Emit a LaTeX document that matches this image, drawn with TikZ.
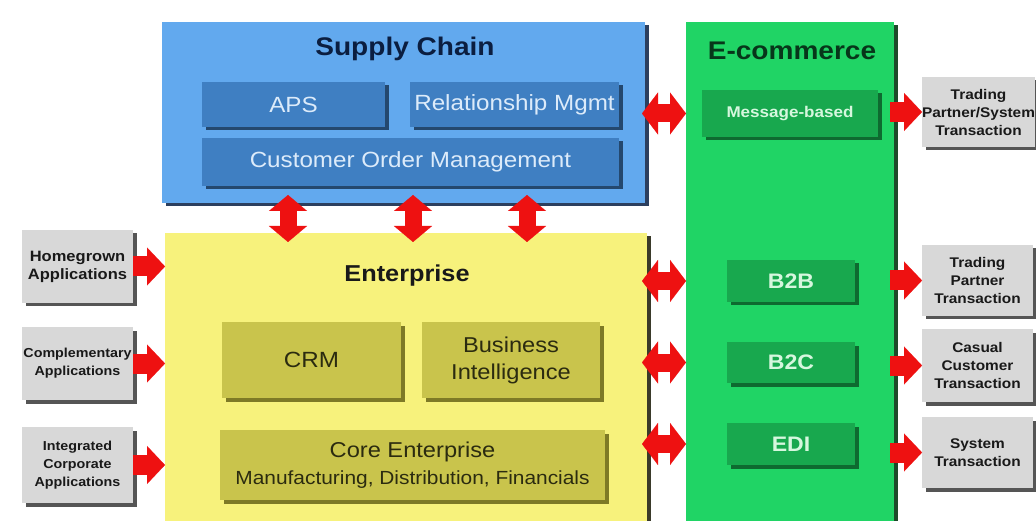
\documentclass[tikz,border=0pt]{standalone}
\usepackage{fontspec}
\setmainfont{Liberation Sans}[FakeStretch=1.1]
\usetikzlibrary{arrows.meta,shadows,calc}
\newcommand\fsz[2]{\fontsize{#1}{#2}\selectfont}
\definecolor{bluebg}{HTML}{62A9EE}
\definecolor{blueshd}{HTML}{2C3F5E}
\definecolor{bluein}{HTML}{3F7FC2}
\definecolor{blueinshd}{HTML}{24486E}
\definecolor{bluetxt}{HTML}{DCEBFA}
\definecolor{bluettl}{HTML}{0B1E40}
\definecolor{yelbg}{HTML}{F7F27C}
\definecolor{yelshd}{HTML}{3A3A2A}
\definecolor{yelin}{HTML}{C9C44C}
\definecolor{yelinshd}{HTML}{7E7A26}
\definecolor{yeltxt}{HTML}{2B2B10}
\definecolor{grnbg}{HTML}{20D465}
\definecolor{grnshd}{HTML}{1D4A2A}
\definecolor{grnin}{HTML}{18A84E}
\definecolor{grninshd}{HTML}{0E6A30}
\definecolor{grntxt}{HTML}{D6F7DE}
\definecolor{grnttl}{HTML}{07361A}
\definecolor{graybg}{HTML}{D8D8D8}
\definecolor{grayshd}{HTML}{555555}
\definecolor{arrred}{HTML}{EE1111}
\begin{document}
\begin{tikzpicture}[x=1pt,y=-1pt,
  box/.style={rectangle, inner sep=0pt, outer sep=0pt, anchor=north west, align=center},
  shd/.style={drop shadow={shadow xshift=3.5pt, shadow yshift=-3.5pt, fill=#1, opacity=1}},
  bigblue/.style={box, fill=bluebg, shd=blueshd},
  inblue/.style={box, fill=bluein, shd=blueinshd, text=bluetxt, font=\fsz{22}{25}},
  bigyel/.style={box, fill=yelbg, shd=yelshd},
  inyel/.style={box, fill=yelin, shd=yelinshd, text=yeltxt, font=\fsz{21.5}{27}},
  biggrn/.style={box, fill=grnbg, shd=grnshd},
  ingrn/.style={box, fill=grnin, shd=grninshd, text=grntxt, font=\bfseries\fsz{21}{25}},
  graybox/.style={box, fill=graybg, shd=grayshd, text=black!90, font=\bfseries\fsz{13}{18}},
  ttl/.style={anchor=base, font=\bfseries\fsz{25.5}{28}},
  dblh/.style={draw=arrred, line width=18pt,
    {Triangle[width=42pt,length=16pt,line width=0.1pt]}-{Triangle[width=42pt,length=16pt,line width=0.1pt]}},
  dblv/.style={draw=arrred, line width=17pt,
    {Triangle[width=38pt,length=16pt,line width=0.1pt]}-{Triangle[width=38pt,length=16pt,line width=0.1pt]}},
  sgl/.style={draw=arrred, line width=20pt,
    -{Triangle[width=38pt,length=18pt,line width=0.1pt]}}
]
\clip (0,0) rectangle (1036,521);
\fill[white] (0,0) rectangle (1036,521);

% outer boxes
\node[bigblue, minimum width=483pt, minimum height=181pt] (sc) at (162,22) {};
\node[bigyel, minimum width=482pt, minimum height=300pt] (ent) at (165,233) {};
\node[biggrn, minimum width=208pt, minimum height=510pt] (ec) at (686,22) {};

% titles
\node[ttl, text=bluettl] (sctitle) at (405,56) {Supply Chain};
\node[ttl, text=black!90, font=\bfseries\fsz{23}{28}] (enttitle) at (407,282) {Enterprise};
\node[ttl, text=grnttl, font=\bfseries\fsz{25.5}{28}] (ectitle) at (792,60) {E-commerce};

% supply chain inner
\node[inblue, minimum width=183pt, minimum height=45pt] (aps) at (202,82) {APS};
\node[inblue, minimum width=209pt, minimum height=45pt] (rel) at (410,82) {Relationship Mgmt};
\node[inblue, minimum width=417pt, minimum height=48pt] (com) at (202,138) {Customer Order Management};

% enterprise inner
\node[inyel, minimum width=179pt, minimum height=76pt, font=\fsz{22}{27}] (crm) at (222,322) {CRM};
\node[inyel, minimum width=178pt, minimum height=76pt] (bi) at (422,322) {Business\\Intelligence};
\node[inyel, minimum width=385pt, minimum height=70pt] (core) at (220,430) {Core Enterprise\\{\fsz{19}{27}\selectfont Manufacturing, Distribution, Financials}};

% e-commerce inner
\node[ingrn, minimum width=176pt, minimum height=47pt, font=\bfseries\fsz{15.5}{18}] (msg) at (702,90) {Message-based};
\node[ingrn, minimum width=128pt, minimum height=42pt] (b2b) at (727,260) {B2B};
\node[ingrn, minimum width=128pt, minimum height=41pt] (b2c) at (727,342) {B2C};
\node[ingrn, minimum width=128pt, minimum height=42pt] (edi) at (727,423) {EDI};

% left gray boxes
\node[graybox, minimum width=111pt, minimum height=73pt, font=\bfseries\fsz{15}{18}] (hg) at (22,230) {Homegrown\\Applications};
\node[graybox, minimum width=111pt, minimum height=73pt] (comp) at (22,327) {Complementary\\Applications};
\node[graybox, minimum width=111pt, minimum height=76pt] (integ) at (22,427) {Integrated\\Corporate\\Applications};

% right gray boxes
\node[graybox, minimum width=111pt, minimum height=70pt, font=\bfseries\fsz{14}{18}] (t1) at (922,77) {Trading\\Partner/System\\Transaction};
\node[graybox, minimum width=111pt, minimum height=71pt, font=\bfseries\fsz{14}{18}] (t2) at (922,245) {Trading\\Partner\\Transaction};
\node[graybox, minimum width=111pt, minimum height=73pt, font=\bfseries\fsz{14}{18}] (t3) at (922,329) {Casual\\Customer\\Transaction};
\node[graybox, minimum width=111pt, minimum height=71pt, font=\bfseries\fsz{14}{18}] (t4) at (922,417) {System\\Transaction};

% vertical connectors supply chain <-> enterprise
\coordinate (v1) at (288,0);
\coordinate (v2) at (413,0);
\coordinate (v3) at (527,0);
\foreach \v in {v1,v2,v3}
  \draw[dblv, shorten <=-8pt, shorten >=-9pt] (sc.south -| \v) -- (ent.north -| \v);

% horizontal double connectors
\draw[dblh, shorten <=-3pt] (sc.east |- msg.west) -- (ec.west |- msg.west);
\draw[dblh, shorten <=-5pt] (ent.east |- b2b.west) -- (ec.west |- b2b.west);
\draw[dblh, shorten <=-5pt] (ent.east |- b2c.west) -- (ec.west |- b2c.west);
\draw[dblh, shorten <=-5pt] (ent.east |- edi.west) -- (ec.west |- edi.west);

% left single connectors
\draw[sgl] (hg.east) -- (ent.west |- hg.east);
\draw[sgl] (comp.east) -- (ent.west |- comp.east);
\draw[sgl] (integ.east) -- (ent.west |- integ.east);

% right single connectors
\draw[sgl, shorten <=-4pt] (ec.east |- t1.west) -- (t1.west);
\draw[sgl, shorten <=-4pt] (ec.east |- t2.west) -- (t2.west);
\draw[sgl, shorten <=-4pt] (ec.east |- t3.west) -- (t3.west);
\draw[sgl, shorten <=-4pt] (ec.east |- t4.west) -- (t4.west);
\end{tikzpicture}
\end{document}
